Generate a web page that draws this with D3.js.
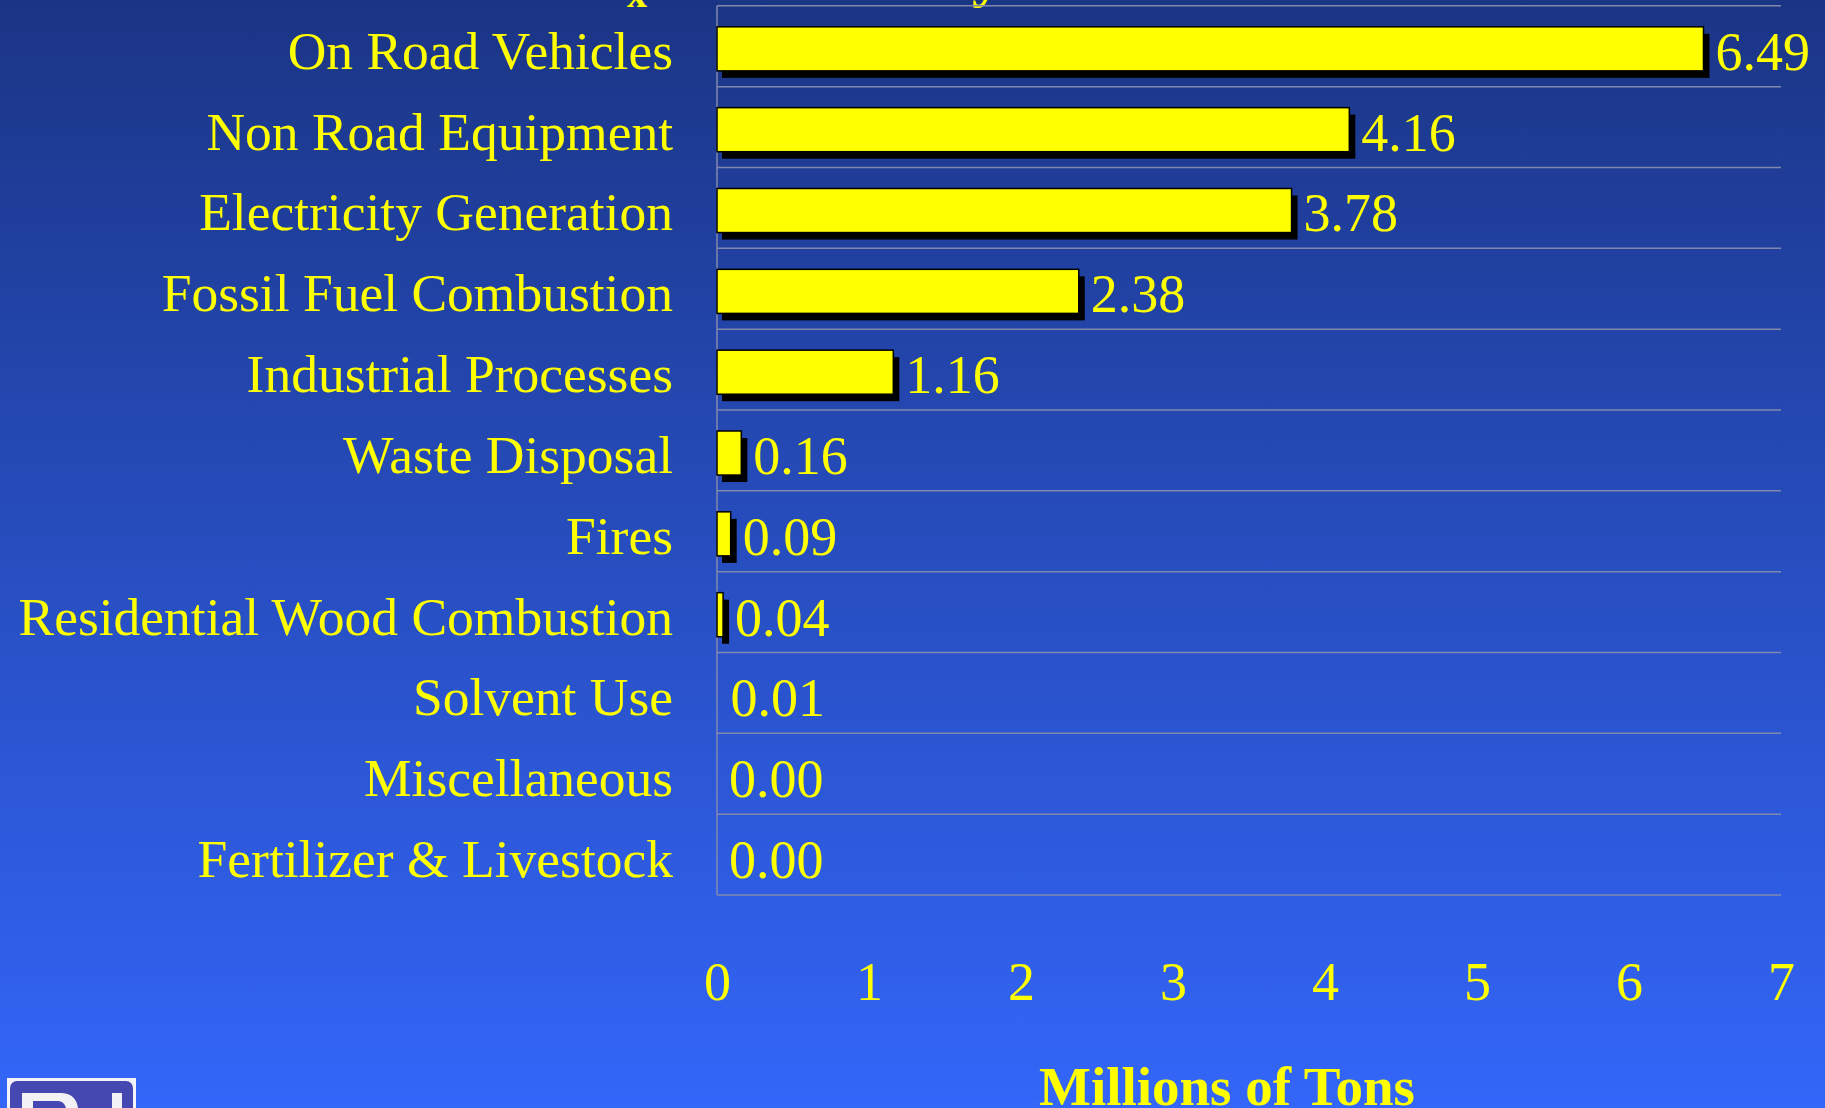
<html>
<head>
<script src="https://cdn.jsdelivr.net/npm/d3@7"></script>
<style>
  body { margin: 0; background: #2a52c0; }
  svg text { font-family: 'Liberation Serif', 'Times New Roman', serif; fill: #ffff00; }
</style>
</head>
<body>
<svg id="chart" width="1825" height="1108"></svg>
<script>
// chart data
const categories = ['On Road Vehicles', 'Non Road Equipment', 'Electricity Generation',
  'Fossil Fuel Combustion', 'Industrial Processes', 'Waste Disposal', 'Fires',
  'Residential Wood Combustion', 'Solvent Use', 'Miscellaneous', 'Fertilizer & Livestock'];
const values = [6.49, 4.16, 3.78, 2.38, 1.16, 0.16, 0.09, 0.04, 0.01, 0.00, 0.00];
const xTicks = [0, 1, 2, 3, 4, 5, 6, 7];
const axisTitle = 'Millions of Tons';

const W = 1825, H = 1108;
const plotLeft = 717, plotRight = 1781, plotTop = 5.8, plotBottom = 895;

const svg = d3.select('#chart');

// background gradient
const defs = svg.append('defs');
const grad = defs.append('linearGradient').attr('id', 'bg')
  .attr('x1', 0).attr('y1', 0).attr('x2', 0).attr('y2', 1);
grad.append('stop').attr('offset', '0%').attr('stop-color', '#1b3585');
grad.append('stop').attr('offset', '100%').attr('stop-color', '#3366f9');
svg.append('rect').attr('width', W).attr('height', H).attr('fill', 'url(#bg)');

// cut-off title at the top
svg.append('text')
  .attr('x', 626).attr('y', -8)
  .attr('text-anchor', 'end')
  .style('font-size', '60px').style('font-weight', 'bold')
  .text('NO');
svg.append('text')
  .attr('x', 627).attr('y', 7)
  .style('font-size', '40px').style('font-weight', 'bold')
  .text('x');
svg.append('text')
  .attr('x', 1002).attr('y', -5)
  .attr('text-anchor', 'end')
  .style('font-size', '60px').style('font-weight', 'bold')
  .text('Emissions by');

const x = d3.scaleLinear().domain([0, 7]).range([plotLeft, plotRight]);
const y = d3.scaleBand().domain(categories).range([plotTop, plotBottom]).padding(0);
const bw = y.bandwidth();

// gridlines at band edges
const edges = categories.map(c => y(c)).concat([plotBottom]);
svg.append('g').selectAll('line')
  .data(edges).enter().append('line')
  .attr('x1', plotLeft).attr('x2', plotRight)
  .attr('y1', d => d).attr('y2', d => d)
  .attr('stroke', '#8088ae').attr('stroke-width', 1.5);

svg.append('line')
  .attr('x1', plotLeft).attr('x2', plotLeft).attr('y1', plotTop).attr('y2', plotBottom)
  .attr('stroke', '#8088ae').attr('stroke-width', 1.5);

const rows = categories.map((c, i) => ({ cat: c, val: values[i] }));
const visible = rows.filter(d => x(d.val) - x(0) >= 2);

// shadows
svg.append('g').selectAll('rect')
  .data(visible).enter().append('rect')
  .attr('x', x(0) + 5)
  .attr('y', d => y(d.cat) + bw * 0.26 + 7)
  .attr('width', d => x(d.val) - x(0) + 1)
  .attr('height', bw * 0.545)
  .attr('fill', '#000');

// bars
svg.append('g').selectAll('rect')
  .data(visible).enter().append('rect')
  .attr('x', x(0))
  .attr('y', d => y(d.cat) + bw * 0.26)
  .attr('width', d => x(d.val) - x(0))
  .attr('height', bw * 0.545)
  .attr('fill', '#ffff00')
  .attr('stroke', '#000').attr('stroke-width', 1.5);

// value labels
svg.append('g').selectAll('text')
  .data(rows).enter().append('text')
  .attr('x', d => x(d.val) + 12)
  .attr('y', d => y(d.cat) + 64)
  .style('font-size', '54px')
  .text(d => d3.format('.2f')(d.val));

// category labels
svg.append('g').selectAll('text')
  .data(rows).enter().append('text')
  .attr('x', 673)
  .attr('y', d => y(d.cat) + 63)
  .attr('text-anchor', 'end')
  .style('font-size', '53.5px')
  .text(d => d.cat);

// x axis tick labels
const xAxis = d3.axisBottom(x).tickValues(xTicks).tickFormat(d3.format('d')).tickSize(0).tickPadding(0);
const gx = svg.append('g').attr('transform', 'translate(0,962)').call(xAxis);
gx.select('.domain').remove();
gx.selectAll('text')
  .attr('y', 38).attr('dy', 0)
  .style('font-size', '54px')
  .style('font-family', "'Liberation Serif', 'Times New Roman', serif")
  .attr('fill', '#ffff00');

// axis title
svg.append('text')
  .attr('x', 1227).attr('y', 1105)
  .attr('text-anchor', 'middle')
  .style('font-size', '55px').style('font-weight', 'bold')
  .text(axisTitle);

// logo fragment bottom-left
const logo = svg.append('g');
logo.append('rect').attr('x', 7).attr('y', 1078).attr('width', 129).attr('height', 40).attr('fill', '#f4f4f8');
logo.append('rect').attr('x', 10).attr('y', 1081).attr('width', 123).attr('height', 40).attr('rx', 7).attr('fill', '#4548b0');
logo.append('path')
  .attr('d', 'M22,1108 L22,1093 L62,1093 Q76,1094 78,1108 L66,1108 Q64,1101 58,1101 L33,1101 L33,1108 Z')
  .attr('fill', '#f2f2f4');
logo.append('rect').attr('x', 112).attr('y', 1093).attr('width', 10).attr('height', 15).attr('fill', '#f2f2f4');
</script>
</body>
</html>
